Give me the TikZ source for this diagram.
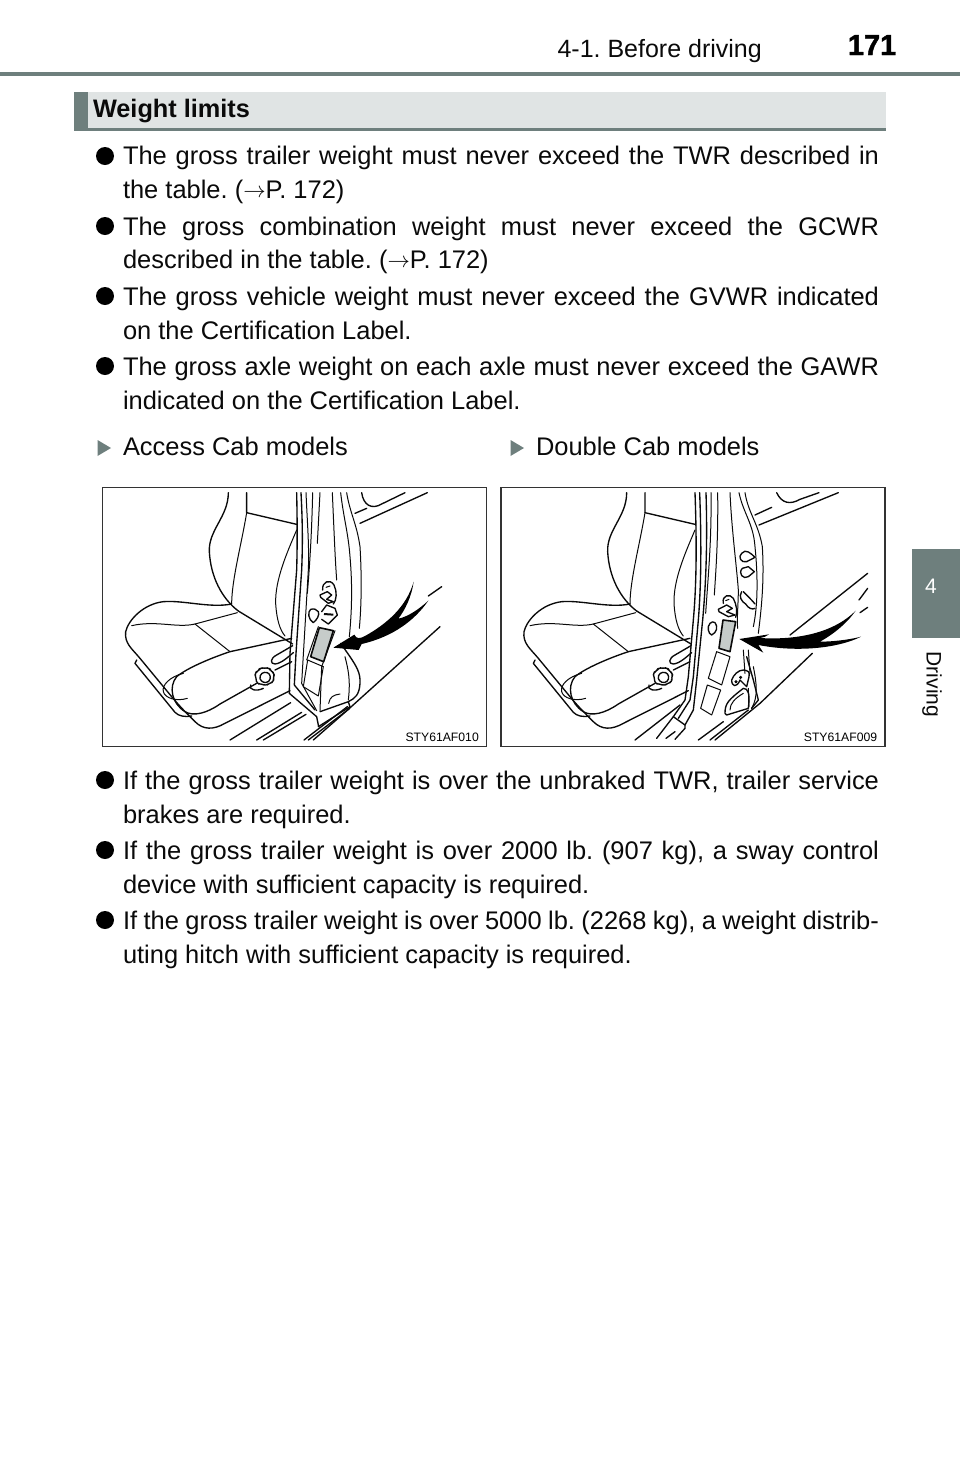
\documentclass[tikz,border=0pt]{standalone}
\usepackage{fontspec}
\setmainfont{Liberation Sans}
\newfontface\heavyface[FakeBold=1.6]{Liberation Sans Bold}
\definecolor{slate}{HTML}{6E7F7D}
\definecolor{pale}{HTML}{E0E4E4}
\definecolor{lbl}{HTML}{C6CCCA}
\definecolor{ink}{HTML}{0A0A0A}
\newcommand{\arr}{\raisebox{0.02em}{\resizebox{0.88em}{!}{$\rightarrow$}}}
\newcommand{\jline}[1]{\hbox to 756pt{#1}}
\frenchspacing
\tikzset{
 body/.style={anchor=base west,inner sep=0pt,outer sep=0pt,font=\fontsize{25.45}{30}\selectfont,text=ink},
 dot/.style={fill=black,draw=none},
 lnart/.style={draw=ink,line width=1.35pt,line cap=round,line join=round},
 thinart/.style={draw=ink,line width=1pt,line cap=round,line join=round},
 frame/.style={draw=black!80,line width=1.1pt},
 code/.style={anchor=base east,inner sep=0pt,font=\fontsize{12.2}{14}\selectfont,text=black},
}
\newcommand{\seat}{%
 % backrest
 \draw[lnart] (385,38) .. controls (385,110) and (325,150) .. (328,215) .. controls (332,290) and (365,355) .. (415,393);
 \draw[lnart] (440,38) -- (440,98) -- (590,133);
 \draw[thinart] (440,98) .. controls (425,190) and (395,300) .. (395,372);
 \draw[thinart] (590,150) .. controls (560,220) and (525,300) .. (527,370) .. controls (530,420) and (540,450) .. (555,468);
 % cushion
 \draw[lnart] (395,372) .. controls (330,385) and (250,360) .. (190,365) .. controls (130,372) and (85,420) .. (77,455) .. controls (73,490) and (95,505) .. (120,535) -- (215,650) .. controls (240,680) and (260,700) .. (285,725) .. controls (310,750) and (340,750) .. (375,730) -- (570,632);
 \draw[lnart] (415,393) -- (578,492);
 \draw[thinart] (95,437) .. controls (170,420) and (230,445) .. (285,432) -- (412,398);
 \draw[thinart] (285,432) -- (390,515);
 \draw[lnart] (575,475) -- (390,515) .. controls (330,535) and (260,565) .. (230,590) .. controls (205,620) and (215,670) .. (255,695) .. controls (280,710) and (320,700) .. (360,672) -- (470,610);
 \draw[thinart] (250,580) .. controls (210,590) and (185,615) .. (190,635) .. controls (195,655) and (230,665) .. (262,655);
 \draw[lnart] (110,540) -- (105,550) -- (225,697) .. controls (235,708) and (255,712) .. (275,708);
 % lever and knob
 \draw[lnart] (578,497) -- (530,525) .. controls (510,535) and (510,552) .. (525,552) .. controls (545,550) and (565,530) .. (580,518);
 \draw[lnart] (525,570) -- (575,545);
 \draw[lnart,fill=white,rounded corners=3pt] (468,592) -- (463,578) -- (476,574) -- (480,562) -- (494,566) -- (508,562) -- (512,574) -- (525,580) -- (519,592) -- (522,606) -- (508,609) -- (498,618) -- (484,611) -- (470,612) -- cycle;
 \draw[lnart] (480,596) .. controls (478,582) and (490,574) .. (502,578) .. controls (512,582) and (514,596) .. (506,604) .. controls (496,612) and (484,606) .. (480,596);
 \draw[lnart] (452,615) .. controls (445,630) and (470,635) .. (490,625);
}
\begin{document}
\begin{tikzpicture}[x=1pt,y=-1pt]
\useasboundingbox (0,0) rectangle (960,1484);
\fill[white] (0,0) rectangle (960,1484);
% header
\fill[slate] (0,72) rectangle (960,75.5);
\node[anchor=base east,inner sep=0pt,font=\fontsize{25}{28}\selectfont,text=ink] (section) at (762,57) {4-1. Before driving};
\node[anchor=base east,inner sep=0pt,font=\fontsize{29}{34}\heavyface,text=black] (pageno) at (896.5,55) {171};
% tab
\fill[slate] (912,549) rectangle (960,638);
\node[text=white,font=\fontsize{21}{24}\selectfont,inner sep=0pt] (tabno) at (931,586) {4};
\node[rotate=-90,text=ink,font=\fontsize{21}{24}\selectfont,inner sep=0pt] (tabname) at (932,684.5) {Driving};
% heading
\fill[pale] (74,92) rectangle (886,128);
\fill[slate] (74,128) rectangle (886,131);
\fill[slate] (74,92) rectangle (88,131);
\node[body,font=\fontsize{25.3}{28}\bfseries] (heading) at (93,117) {Weight limits};
% bullets
\foreach \y in {156,226,296,366,780,850,920} \fill[dot] (105,\y) circle (9);
\fill[slate] (97.5,440) -- (111,448) -- (97.5,456) -- cycle;
\fill[slate] (510.5,440) -- (524,448) -- (510.5,456) -- cycle;
\node[body] (a1) at (123,164) {\jline{The gross trailer weight must never exceed the TWR described in}};
\node[body] (a2) at (123,198) {the table. (\arr P. 172)};
\node[body] (b1) at (123,235) {\jline{The gross combination weight must never exceed the GCWR}};
\node[body] (b2) at (123,268) {described in the table. (\arr P. 172)};
\node[body] (c1) at (123,305) {\jline{The gross vehicle weight must never exceed the GVWR indicated}};
\node[body] (c2) at (123,339) {on the Certification Label.};
\node[body] (d1) at (123,375) {\jline{The gross axle weight on each axle must never exceed the GAWR}};
\node[body] (d2) at (123,409) {indicated on the Certification Label.};
\node[body] (e1) at (123,455) {Access Cab models};
\node[body] (e2) at (536,455) {Double Cab models};
\node[body] (f1) at (123,789) {\jline{If the gross trailer weight is over the unbraked TWR, trailer service}};
\node[body] (f2) at (123,823) {brakes are required.};
\node[body] (g1) at (123,859) {\jline{If the gross trailer weight is over 2000 lb. (907 kg), a sway control}};
\node[body] (g2) at (123,893) {device with sufficient capacity is required.};
\node[body] (h1) at (123,929) {\jline{If the gross trailer weight is over 5000 lb. (2268 kg), a weight distrib-}};
\node[body] (h2) at (123,963) {uting hitch with sufficient capacity is required.};
% left illustration
\begin{scope}[shift={(100,480)},x=0.33333pt,y=-0.33333pt]
 \draw[frame] (8,22) rectangle (1160,800);
 \seat
 % pillar
 \draw[lnart] (590,38) .. controls (592,130) and (592,200) .. (590,270) -- (570,520) -- (568,640) -- (650,710) -- (656,740);
 \draw[lnart] (603,38) .. controls (608,130) and (608,200) .. (605,270) -- (588,520) -- (583,615) -- (645,690);
 \draw[thinart] (618,38) .. controls (622,130) and (628,200) .. (625,270) -- (605,610) -- (650,692);
 \draw[thinart] (638,38) .. controls (635,170) and (628,270) .. (622,340);
 \draw[thinart] (660,38) -- (652,190);
 \draw[thinart] (697,38) .. controls (702,150) and (705,230) .. (710,300);
 \draw[thinart] (722,38) .. controls (730,110) and (745,160) .. (750,230) .. controls (758,320) and (755,400) .. (748,470);
 \draw[thinart] (740,38) .. controls (750,100) and (770,130) .. (780,200) .. controls (785,280) and (785,370) .. (778,445);
 \draw[lnart] (722,490) -- (750,530) .. controls (770,560) and (782,580) .. (780,610) .. controls (778,645) and (765,655) .. (745,665);
 \draw[thinart] (735,530) .. controls (745,570) and (752,600) .. (745,660);
 \draw[thinart] (705,452) -- (665,560) -- (660,692);
 \draw[thinart] (655,440) -- (620,540);
 \draw[lnart] (660,695) -- (745,665) -- (750,680) -- (655,740);
 \draw[thinart] (686,670) .. controls (690,650) and (700,645) .. (720,642);
 % car body
 \draw[lnart] (1020,440) -- (745,688) -- (640,780);
 \draw[lnart] (780,130) -- (982,38);
 \draw[lnart] (765,100) -- (800,85);
 \draw[lnart] (785,38) .. controls (790,75) and (815,90) .. (845,72) -- (915,38);
 \draw[lnart] (985,348) -- (1025,320);
 \draw[lnart] (390,780) -- (572,668);
 \draw[lnart] (470,780) -- (605,697);
 \draw[lnart] (490,780) -- (618,703);
 \draw[lnart] (612,780) -- (742,680);
 \draw[lnart] (625,780) -- (748,686);
 % latches
 \draw[lnart] (668,330) .. controls (665,305) and (690,295) .. (702,315) .. controls (712,335) and (710,360) .. (700,372);
 \draw[lnart] (660,345) -- (682,335) -- (695,345) -- (680,358) -- (700,365) -- (685,370) -- (662,352) -- cycle;
 \draw[thinart] (678,322) -- (690,318);
 \draw[lnart] (665,395) -- (680,375) -- (705,385) -- (712,405) -- (685,432) -- (665,418);
 \draw[line width=2pt,ink] (672,402) -- (700,404);
 \draw[lnart] (632,388) .. controls (622,395) and (625,420) .. (640,428) .. controls (650,420) and (660,405) .. (655,395) .. controls (650,388) and (642,385) .. (632,388);
 % label
 \draw[lnart,line width=1.6pt,fill=lbl] (658,443) -- (700,452) -- (671,545) -- (632,530) -- cycle;
 \draw[thinart] (623,540) -- (610,620) -- (655,648) -- (670,560);
 \draw[thinart] (623,540) -- (670,560);
 % arrow
 \fill[black] (700,503) -- (763,464) .. controls (770,478) and (780,476) .. (795,468) .. controls (860,432) and (920,380) .. (941,305) .. controls (935,350) and (915,390) .. (895,416) .. controls (925,410) and (960,385) .. (985,362) .. controls (945,420) and (880,470) .. (785,492) -- (776,510) -- cycle;
 \node[code] (c1code) at (1137,784) {STY61AF010};
\end{scope}
% right illustration
\begin{scope}[shift={(495,480)},x=0.33333pt,y=-0.33333pt]
 \draw[frame] (18,22) rectangle (1170,800);
 \begin{scope}[xshift=3.3333pt]\seat\end{scope}
 % pillar
 \draw[lnart] (600,38) .. controls (606,200) and (604,320) .. (595,420) -- (580,590) -- (570,660) -- (535,710) -- (485,775);
 \draw[lnart] (614,38) .. controls (620,200) and (618,320) .. (610,420) -- (595,590) -- (585,660) -- (550,715);
 \draw[lnart] (633,38) .. controls (638,200) and (632,320) .. (623,420) -- (605,600) -- (595,690) -- (570,735) -- (570,745) -- (540,778);
 \draw[lnart] (535,710) -- (570,735);
 \draw[thinart] (648,38) .. controls (650,180) and (640,280) .. (632,400);
 \draw[thinart] (668,38) .. controls (670,180) and (662,280) .. (658,345);
 \draw[thinart] (705,38) .. controls (710,150) and (725,260) .. (730,330) .. controls (730,370) and (725,420) .. (728,445);
 \draw[thinart] (732,38) .. controls (745,100) and (775,130) .. (780,200) .. controls (788,280) and (790,370) .. (775,440);
 \draw[thinart] (750,38) .. controls (760,100) and (790,130) .. (802,200) .. controls (808,300) and (800,380) .. (790,460);
 \draw[thinart] (745,510) -- (750,580);
 \draw[thinart] (760,510) -- (765,580);
 \draw[thinart] (760,625) -- (762,680);
 \draw[thinart] (775,560) .. controls (785,610) and (790,650) .. (770,685);
 % upper hinges
 \draw[lnart] (740,220) .. controls (728,230) and (738,250) .. (755,245) -- (780,232) .. controls (768,220) and (752,205) .. (740,220);
 \draw[lnart] (742,265) .. controls (728,280) and (745,300) .. (760,290) -- (778,275) -- (760,260) -- cycle;
 \draw[lnart] (740,335) .. controls (730,350) and (740,365) .. (752,372) .. controls (760,385) and (772,390) .. (780,385);
 \draw[lnart] (745,335) .. controls (755,345) and (775,365) .. (780,372);
 % car body
 \draw[lnart] (952,520) -- (795,670) -- (660,780);
 \draw[lnart] (792,135) -- (1030,38);
 \draw[lnart] (780,105) -- (830,82);
 \draw[lnart] (845,38) .. controls (860,70) and (885,75) .. (915,58) -- (972,38);
 \draw[lnart] (885,465) -- (1118,280);
 \draw[lnart] (1095,398) -- (1118,382);
 \draw[lnart] (1092,360) -- (1118,325);
 \draw[lnart] (420,780) -- (555,675);
 \draw[lnart] (513,775) -- (540,755);
 \draw[lnart] (610,780) -- (685,725);
 \draw[lnart] (645,780) -- (760,690);
 % latch
 \draw[lnart] (685,370) .. controls (680,345) and (705,340) .. (715,355) .. controls (725,375) and (728,395) .. (722,412);
 \draw[lnart] (670,388) -- (695,375) -- (712,385) -- (695,395) -- (720,405) -- (700,410) -- (672,395) -- cycle;
 \draw[thinart] (692,362) -- (702,358);
 \draw[lnart] (645,430) .. controls (635,440) and (640,462) .. (650,465) .. controls (665,458) and (670,440) .. (660,428) .. controls (655,424) and (650,425) .. (645,430);
 % label
 \draw[lnart,line width=1.6pt,fill=lbl] (684,420) -- (722,425) -- (705,515) -- (672,505) -- cycle;
 \draw[thinart] (665,515) -- (705,530) -- (680,615) -- (640,595) -- cycle;
 \draw[thinart] (637,615) -- (677,630) -- (650,705) -- (617,685) -- cycle;
 % lower hinge and handle
 \draw[lnart] (710,600) .. controls (715,585) and (730,570) .. (745,570) .. controls (760,572) and (765,575) .. (762,590) -- (755,620) -- (735,600) .. controls (725,625) and (710,620) .. (710,600);
 \draw[fill=ink] (723,605) circle (4) (737,592) circle (4);
 \draw[lnart] (690,700) .. controls (690,670) and (700,660) .. (745,625) .. controls (760,625) and (765,640) .. (760,685) -- (695,705) -- cycle;
 \draw[thinart] (705,690) .. controls (705,670) and (720,655) .. (745,640);
 \draw[lnart] (755,530) -- (775,600) -- (790,660) -- (770,685);
 % arrow
 \fill[black] (733,477) -- (822,463) .. controls (815,470) and (805,472) .. (795,474) .. controls (890,480) and (1010,465) .. (1082,392) .. controls (1060,425) and (1020,460) .. (975,485) .. controls (1010,485) and (1060,480) .. (1098,470) .. controls (1040,500) and (920,520) .. (790,495) -- (805,518) -- cycle;
 \node[code] (c2code) at (1147,784) {STY61AF009};
\end{scope}
\end{tikzpicture}
\end{document}
